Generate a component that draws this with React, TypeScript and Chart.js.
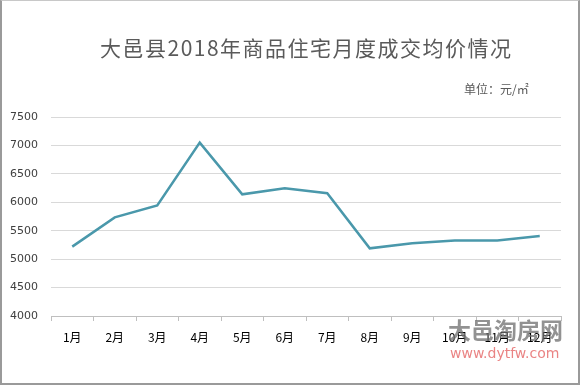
import React, { useEffect, useRef } from "react";
import { Chart, registerables } from "chart.js";

Chart.register(...registerables);

const months = ["1月", "2月", "3月", "4月", "5月", "6月", "7月", "8月", "9月", "10月", "11月", "12月"];
const avgPrice = [5220, 5735, 5945, 7050, 6140, 6245, 6158, 5190, 5278, 5330, 5330, 5405];
const yMin = 4000;
const yMax = 7500;
const yStep = 500;
const titleText = "大邑县2018年商品住宅月度成交均价情况";
const unitText = "单位：元/㎡";

export default function App() {
  const canvasRef = useRef<HTMLCanvasElement | null>(null);

  useEffect(() => {
    const canvas = canvasRef.current;
    if (!canvas) return;
    const chart = new Chart(canvas, {
      type: "line",
      data: {
        labels: months,
        datasets: [
          {
            data: avgPrice,
            borderColor: "#4a98ab",
            borderWidth: 2.5,
            pointRadius: 0,
            tension: 0,
            fill: false,
          },
        ],
      },
      options: {
        animation: false,
        responsive: false,
        devicePixelRatio: 1,
        layout: { padding: { top: 117, right: 19, bottom: 0, left: 0 } },
        plugins: { legend: { display: false }, tooltip: { enabled: false }, title: { display: false } },
        scales: {
          x: {
            offset: true,
            afterFit: (s: any) => {
              s.height = 69;
            },
            grid: {
              offset: true,
              drawOnChartArea: false,
              drawTicks: true,
              tickLength: 5,
              color: "#bfbfbf",
            },
            border: { display: true, color: "#bfbfbf" },
            ticks: {
              padding: 9,
              color: "#000000",
              maxRotation: 0,
              autoSkip: false,
              font: { family: "'Noto Sans CJK SC'", size: 12 },
            },
          },
          y: {
            min: yMin,
            max: yMax,
            afterFit: (s: any) => {
              s.width = 51;
            },
            grid: { color: "#d9d9d9", drawTicks: false, lineWidth: 1 },
            border: { display: false },
            ticks: {
              stepSize: yStep,
              padding: 13,
              color: "#404040",
              font: { family: "'DejaVu Sans'", size: 11 },
              callback: (v: any) => String(v),
            },
          },
        },
      },
    });
    return () => chart.destroy();
  }, []);

  return (
    <div
      style={{
        position: "fixed",
        left: 0,
        top: 0,
        width: 580,
        height: 385,
        background: "#ffffff",
        boxSizing: "border-box",
        overflow: "hidden",
      }}
    >
      <canvas ref={canvasRef} width={580} height={385} style={{ position: "absolute", left: 0, top: 0 }} />
      <div
        style={{
          position: "absolute",
          left: 0,
          top: 0,
          width: 580,
          height: 385,
          boxSizing: "border-box",
          borderTop: "1px solid #c8c8c8",
          borderLeft: "2px solid #9a9a9a",
          borderRight: "2px solid #9a9a9a",
          borderBottom: "2px solid #9a9a9a",
          pointerEvents: "none",
        }}
      />
      <div
        style={{
          position: "absolute",
          left: 100,
          top: 33,
          width: 406,
          textAlign: "center",
          fontFamily: "'Noto Sans CJK SC'",
          fontSize: 21,
          letterSpacing: 1.5,
          color: "#5a5a5a",
          whiteSpace: "nowrap",
          lineHeight: "28px",
        }}
      >
        {titleText}
      </div>
      <div
        style={{
          position: "absolute",
          left: 464,
          top: 80,
          fontFamily: "'Noto Sans CJK SC'",
          fontSize: 12,
          color: "#595959",
          whiteSpace: "nowrap",
          lineHeight: "18px",
        }}
      >
        {unitText}
      </div>
      <div
        style={{
          position: "absolute",
          left: 448,
          top: 314,
          fontFamily: "'Noto Sans CJK SC'",
          fontSize: 23,
          fontWeight: 700,
          color: "rgba(110,110,110,0.75)",
          whiteSpace: "nowrap",
          lineHeight: "30px",
        }}
      >
        大邑淘房网
      </div>
      <div
        style={{
          position: "absolute",
          left: 450,
          top: 344,
          fontFamily: "'DejaVu Sans'",
          fontSize: 14,
          color: "rgba(230,110,110,0.85)",
          whiteSpace: "nowrap",
          lineHeight: "18px",
        }}
      >
        www.dytfw.com
      </div>
    </div>
  );
}
